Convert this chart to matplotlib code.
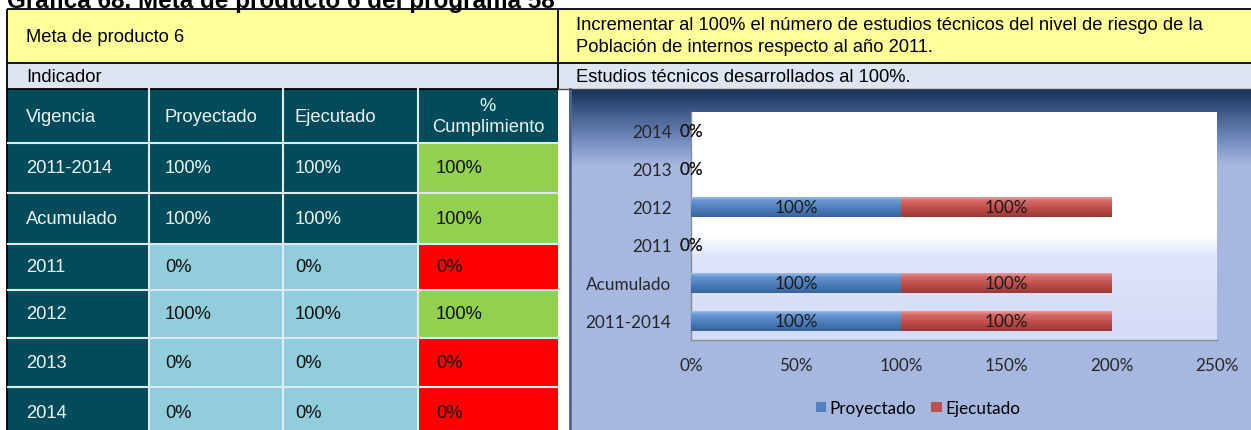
import numpy as np
import matplotlib
matplotlib.use("Agg")
import matplotlib.pyplot as plt
from matplotlib.colors import LinearSegmentedColormap
from matplotlib.patches import Rectangle

# ---------------- data ----------------
title = "Gráfica 68. Meta de producto 6 del programa 58"
meta_label = "Meta de producto 6"
meta_text = ["Incrementar al 100% el número de estudios técnicos del nivel de riesgo de la",
             "Población de internos respecto al año 2011."]
indicador_label = "Indicador"
indicador_text = "Estudios técnicos desarrollados al 100%."
col_headers = ["Vigencia", "Proyectado", "Ejecutado", "%\nCumplimiento"]
vigencias = ["2011-2014", "Acumulado", "2011", "2012", "2013", "2014"]
proyectado = [100, 100, 0, 100, 0, 0]
ejecutado = [100, 100, 0, 100, 0, 0]
cumplimiento = [100, 100, 0, 100, 0, 0]
series_names = ["Proyectado", "Ejecutado"]
x_ticks = [0, 50, 100, 150, 200, 250]

W, H = 1251, 431
fig = plt.figure(figsize=(W / 100, H / 100), dpi=100)
bg = fig.add_axes([0, 0, 1, 1])
bg.set_xlim(0, W)
bg.set_ylim(H, 0)
bg.axis("off")

TFONT = "Liberation Sans"
CFONT = "Lato"
TS = 13.2   # table font size
CS = 12.3   # chart font size

TEAL = "#024b5a"
LBLUE = "#92cddc"
GREEN = "#92d050"
RED = "#ff0000"
YELLOW = "#ffff99"
IND = "#dce6f1"
GRID = "#dfe9ee"

# title (cut off at the top, as in the source)
bg.text(7, 8, title, fontsize=17.5, fontweight="bold", family=TFONT,
        ha="left", va="baseline", color="black")

# header rows
bg.add_patch(Rectangle((7, 10), W - 7, 54, facecolor=YELLOW, edgecolor="none"))
bg.add_patch(Rectangle((7, 64), W - 7, 26, facecolor=IND, edgecolor="none"))
for (x0, y0, x1, y1) in [(7, 10, W, 10), (7, 64, W, 64), (7, 90, 558, 90),
                         (558, 10, 558, 90), (7, 10, 7, H)]:
    bg.plot([x0, x1], [y0, y1], color="black", lw=1.3, solid_capstyle="butt")
bg.plot([558, W], [90, 90], color="#4a4a4a", lw=1.0)

bg.text(26, 38, meta_label, fontsize=TS, family=TFONT, va="center", ha="left")
bg.text(576, 25, meta_text[0], fontsize=TS, family=TFONT, va="center", ha="left")
bg.text(576, 48, meta_text[1], fontsize=TS, family=TFONT, va="center", ha="left")
bg.text(26, 77, indicador_label, fontsize=TS, family=TFONT, va="center", ha="left")
bg.text(576, 77, indicador_text, fontsize=TS, family=TFONT, va="center", ha="left")

# table
col_x = [7, 149, 283, 418, 558]
row_y = [90, 144, 194, 245, 291, 339, 388, 440]
text_x = [26, 165, 295, 436]
HEAD = "#eef4f4"
for c in range(4):
    bg.add_patch(Rectangle((col_x[c], row_y[0]), col_x[c + 1] - col_x[c],
                           row_y[1] - row_y[0], facecolor=TEAL, edgecolor="none"))
for c in range(3):
    bg.text(text_x[c], 118, col_headers[c], fontsize=TS, family=TFONT, color=HEAD, va="center")
bg.text((col_x[3] + col_x[4]) / 2, 117, col_headers[3], fontsize=TS, family=TFONT,
        color=HEAD, va="center", ha="center", linespacing=1.35)

for r, vig in enumerate(vigencias):
    y0, y1 = row_y[r + 1], row_y[r + 2]
    yc = (y0 + y1) / 2
    mid = TEAL if r < 2 else LBLUE
    fills = [TEAL, mid, mid, GREEN if cumplimiento[r] >= 100 else RED]
    for c in range(4):
        bg.add_patch(Rectangle((col_x[c], y0), col_x[c + 1] - col_x[c], y1 - y0,
                               facecolor=fills[c], edgecolor="none"))
    vals = [vig, f"{proyectado[r]}%", f"{ejecutado[r]}%", f"{cumplimiento[r]}%"]
    for c in range(4):
        col = HEAD if fills[c] == TEAL else "#111111"
        bg.text(text_x[c], yc, vals[c], fontsize=TS, family=TFONT, color=col,
                va="center", ha="left")

# grid lines of table
for y in row_y[1:-1]:
    bg.plot([col_x[0] + 1, col_x[-1]], [y, y], color=GRID, lw=1.5)
for x in col_x[1:-1]:
    bg.plot([x, x], [row_y[0], H], color=GRID, lw=1.5)

# chart area background gradient
cmap_area = LinearSegmentedColormap.from_list(
    "area", [(0, "#17345c"), (0.14, "#6f87bb"), (0.22, "#a7b8e0"), (1, "#a7b8e0")])
grad = np.linspace(0, 1, 300).reshape(-1, 1)
bg.imshow(grad, cmap=cmap_area, extent=(569, W, H, 90), aspect="auto",
          interpolation="bilinear", zorder=0)
bg.plot([569.5, 569.5], [90, H], color="#4f6490", lw=2, zorder=1)

# ---------------- bar chart ----------------
L, R_, T, B = 691, 1217, 113, 341
ax = fig.add_axes([L / W, (H - B) / H, (R_ - L) / W, (B - T) / H])
ax.set_xlim(0, 250)
ax.set_ylim(-0.5, len(vigencias) - 0.5)

# plot area gradient
cmap_plot = LinearSegmentedColormap.from_list(
    "plot", [(0, "#d4dcf6"), (0.36, "#dde4fa"), (0.46, "#ffffff"), (1, "#ffffff")])
ax.imshow(np.linspace(0, 1, 300).reshape(-1, 1), cmap=cmap_plot, origin="lower",
          extent=(0, 250, -0.5, len(vigencias) - 0.5), aspect="auto",
          interpolation="bilinear", zorder=0)

ypos = np.arange(len(vigencias))
bar_h = 0.53
b1 = ax.barh(ypos, proyectado, height=bar_h, color="#4f81bd", zorder=2, label=series_names[0])
b2 = ax.barh(ypos, ejecutado, left=proyectado, height=bar_h, color="#c0504d", zorder=2,
             label=series_names[1])

cm_blue = LinearSegmentedColormap.from_list("b", [(0, "#37639b"), (0.45, "#4f81bd"),
                                                 (0.8, "#6a98d2"), (1, "#a9c8ef")])
cm_red = LinearSegmentedColormap.from_list("r", [(0, "#983835"), (0.45, "#c0504d"),
                                                (0.8, "#d66e6b"), (1, "#f0aaa8")])
for cont, cm in ((b1, cm_blue), (b2, cm_red)):
    for p in cont.patches:
        x0, y0 = p.get_x(), p.get_y()
        w, h = p.get_width(), p.get_height()
        if w <= 0:
            continue
        im = ax.imshow(np.linspace(0, 1, 100).reshape(-1, 1), cmap=cm, origin="lower",
                       extent=(x0, x0 + w, y0, y0 + h), aspect="auto",
                       interpolation="bilinear", zorder=3)
        im.set_clip_path(p)

for cont in (b1, b2):
    ax.bar_label(cont, labels=[f"{v:.0f}%" for v in cont.datavalues], label_type="center",
                 fontsize=CS, family=CFONT, color="#1a1a1a", zorder=5)

ax.set_yticks(ypos)
ax.set_yticklabels(vigencias, fontsize=CS, family=CFONT, color="#262626")
ax.set_xticks(x_ticks)
ax.set_xticklabels([f"{t}%" for t in x_ticks], fontsize=CS, family=CFONT, color="#262626")
ax.tick_params(axis="both", length=0)
ax.tick_params(axis="y", pad=14)
ax.tick_params(axis="x", pad=12)
for s in ("top", "right"):
    ax.spines[s].set_visible(False)
for s in ("left", "bottom"):
    ax.spines[s].set_color("#8c8c8c")
    ax.spines[s].set_linewidth(1.0)

leg = fig.legend(handles=[b1, b2], labels=series_names, loc="center",
                 bbox_to_anchor=(918 / W, (H - 409) / H), ncol=2, frameon=False,
                 prop={"family": CFONT, "size": CS}, handlelength=0.6, handleheight=0.6,
                 handletextpad=0.2, columnspacing=0.9)

fig.savefig("out.png", dpi=100)
